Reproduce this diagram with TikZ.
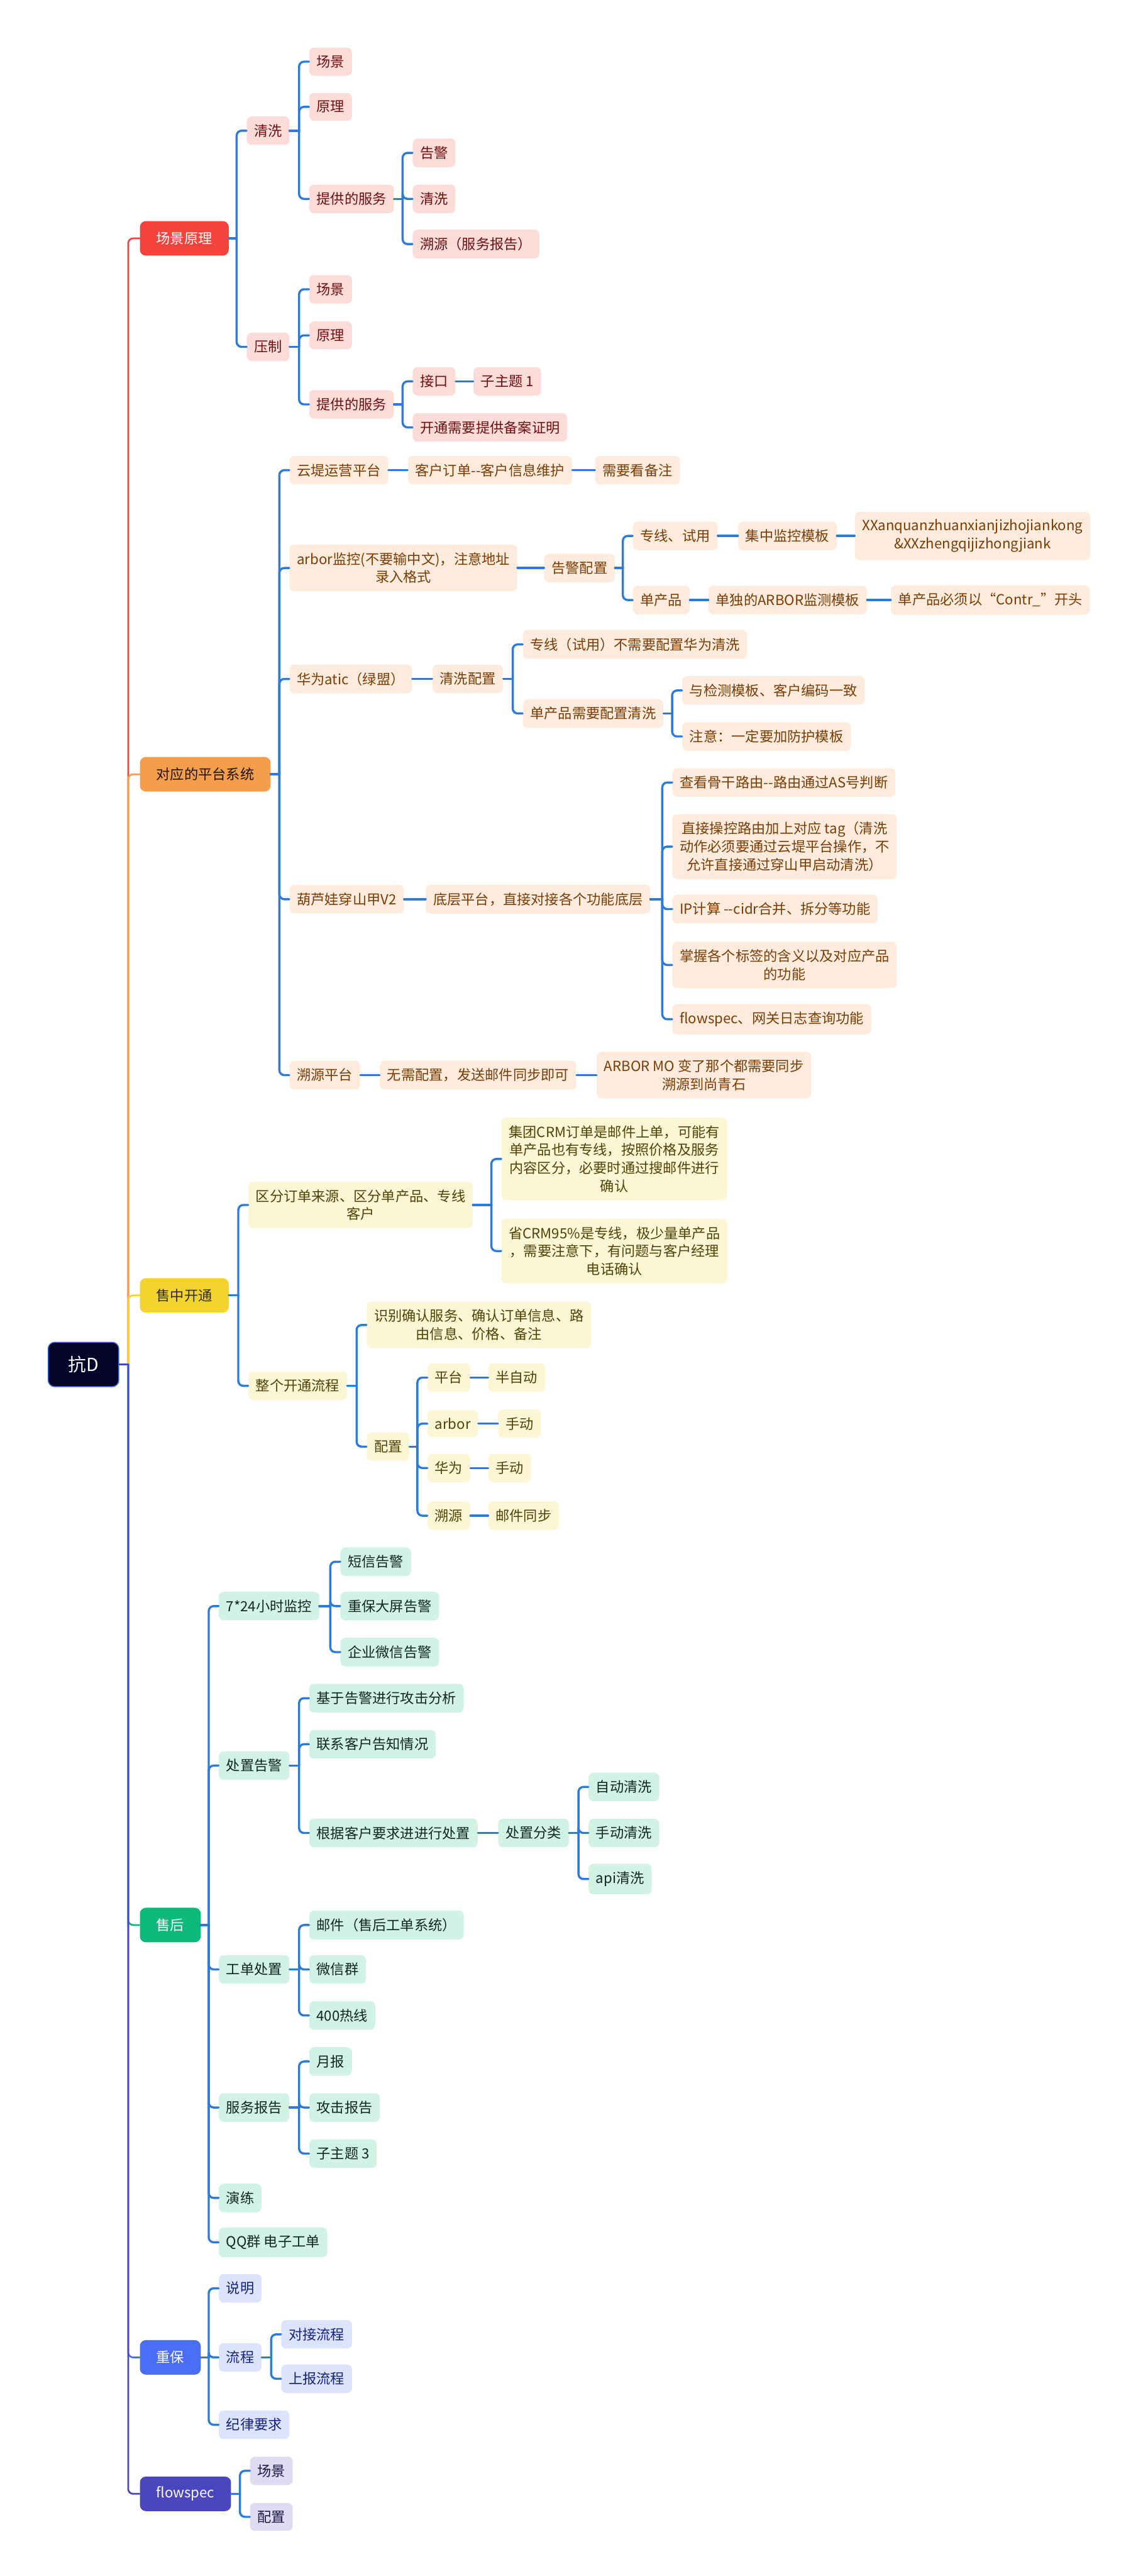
\documentclass[tikz,border=0pt]{standalone}
\usepackage{fontspec}
\setmainfont{Noto Sans CJK SC}
\definecolor{cred}{HTML}{F4433C}
\definecolor{corange}{HTML}{F49D4A}
\definecolor{cyellow}{HTML}{F2D42C}
\definecolor{cgreen}{HTML}{0BB97A}
\definecolor{cblue}{HTML}{4A6EF6}
\definecolor{cindigo}{HTML}{4A47BE}
\definecolor{rootfill}{HTML}{05052B}
\definecolor{rootline}{HTML}{3B63D1}
\definecolor{linkblue}{HTML}{2C7BD8}
\definecolor{pinkfill}{HTML}{FCDCD9}
\definecolor{pinktext}{HTML}{6E1010}
\definecolor{peachfill}{HTML}{FDECDD}
\definecolor{peachtext}{HTML}{7A3D05}
\definecolor{creamfill}{HTML}{FDF6D5}
\definecolor{creamtext}{HTML}{4F4308}
\definecolor{mintfill}{HTML}{D1F2E4}
\definecolor{minttext}{HTML}{10281F}
\definecolor{lavfill}{HTML}{DCE3FC}
\definecolor{lavtext}{HTML}{16237A}
\definecolor{lilacfill}{HTML}{DDDCF2}
\definecolor{lilactext}{HTML}{1A1845}
% children of one parent: bracket sits 6 units left of the children
\newcommand\fan[2]{\foreach \ch in {#2}{%
  \draw[lnk,rounded corners=0.15cm] (\ch.west) -- ++(-6,0) coordinate (brk) -- (brk |- #1.east);
  \draw[lnk] (brk |- #1.east) -- (#1.east);}}
% one child on the same line
\newcommand\chain[2]{\draw[lnk] (#1.east) -- (#1.east -| #2.west);}
% coloured branch from the root
\newcommand\trunk[2]{%
  \draw[trunkln,#2,rounded corners=0.15cm] (#1.west) -- ++(-7,0) coordinate (brk) -- (brk |- root.east);
  \draw[trunkln,#2] (brk |- root.east) -- (root.east);}
\begin{document}
\begin{tikzpicture}[x=0.05cm,y=-0.05cm,line join=round,line cap=round]
\tikzset{every node/.style={font=\fontsize{12.1}{15.6}\selectfont,anchor=west,align=center,
    rounded corners=0.15cm,inner xsep=0.225cm,inner ysep=0.2375cm},
  topic/.style={text=white,inner xsep=0.5cm,minimum height=1.05cm,rounded corners=0.18cm},
  pk/.style={fill=pinkfill,text=pinktext},
  pe/.style={fill=peachfill,text=peachtext},
  cr/.style={fill=creamfill,text=creamtext},
  mt/.style={fill=mintfill,text=minttext},
  lv/.style={fill=lavfill,text=lavtext},
  li/.style={fill=lilacfill,text=lilactext},
  lnk/.style={draw=linkblue,line width=1.85pt},
  trunkln/.style={line width=1.5pt}}
\useasboundingbox (0,0) rectangle (688,1567);

\node[fill=rootfill,draw=rootline,line width=0.8pt,text=white,font=\fontsize{15.6}{18}\selectfont,
  minimum width=2.15cm,minimum height=1.35cm,rounded corners=0.2cm,inner xsep=0.1cm] (root) at (29,830) {抗D};

% main topics
\node[topic,fill=cred] (a) at (85,145) {场景原理};
\node[topic,fill=corange,text=black!85!brown] (b) at (85,471) {对应的平台系统};
\node[topic,fill=cyellow,text=black!85!olive] (c) at (85,788) {售中开通};
\node[topic,fill=cgreen] (d) at (85,1171) {售后};
\node[topic,fill=cblue] (e) at (85,1434) {重保};
\node[topic,fill=cindigo] (f) at (85,1517) {flowspec};

\trunk{a}{cred}
\trunk{b}{corange}
\trunk{c}{cyellow}
\trunk{d}{cgreen}
\trunk{e}{cblue}
\trunk{f}{cindigo}

% 场景原理
\node[pk] (a1) at (150,79.5) {清洗};
\node[pk] (a2) at (150,211) {压制};
\node[pk] (a11) at (188,37.5) {场景};
\node[pk] (a12) at (188,65) {原理};
\node[pk] (a13) at (188,121) {提供的服务};
\node[pk] (a131) at (251,93) {告警};
\node[pk] (a132) at (251,121) {清洗};
\node[pk] (a133) at (251,148.5) {溯源（服务报告）};
\node[pk] (a21) at (188,176) {场景};
\node[pk] (a22) at (188,204) {原理};
\node[pk] (a23) at (188,246) {提供的服务};
\node[pk] (a231) at (251,232) {接口};
\node[pk] (a2311) at (288,232) {子主题 1};
\node[pk] (a232) at (251,260) {开通需要提供备案证明};
\fan{a}{a1,a2}
\fan{a1}{a11,a12,a13}
\fan{a13}{a131,a132,a133}
\fan{a2}{a21,a22,a23}
\fan{a23}{a231,a232}
\chain{a231}{a2311}

% 对应的平台系统
\node[pe] (b1) at (176,286) {云堤运营平台};
\node[pe] (b11) at (248,286) {客户订单-{}-客户信息维护};
\node[pe] (b111) at (362,286) {需要看备注};
\node[pe] (b2) at (176,345.5) {arbor监控(不要输中文)，注意地址\\录入格式};
\node[pe] (b21) at (331,345.5) {告警配置};
\node[pe] (b211) at (385,326) {专线、试用};
\node[pe] (b2111) at (449,326) {集中监控模板};
\node[pe] (b21111) at (520,326) {XXanquanzhuanxianjizhojiankong\\\&XXzhengqijizhongjiank};
\node[pe] (b212) at (385,365) {单产品};
\node[pe] (b2121) at (431,365) {单独的ARBOR监测模板};
\node[pe] (b21211) at (542,365) {单产品必须以“Contr\_”开头};
\node[pe] (b3) at (176,413) {华为atic（绿盟）};
\node[pe] (b31) at (263,413) {清洗配置};
\node[pe] (b311) at (318,392) {专线（试用）不需要配置华为清洗};
\node[pe] (b312) at (318,434) {单产品需要配置清洗};
\node[pe] (b3121) at (415,420) {与检测模板、客户编码一致};
\node[pe] (b3122) at (415,448) {注意：一定要加防护模板};
\node[pe] (b4) at (176,547) {葫芦娃穿山甲V2};
\node[pe] (b41) at (259,547) {底层平台，直接对接各个功能底层};
\node[pe] (b411) at (409,476) {查看骨干路由-{}-路由通过AS号判断};
\node[pe] (b412) at (409,515) {直接操控路由加上对应 tag（清洗\\动作必须要通过云堤平台操作，不\\允许直接通过穿山甲启动清洗）};
\node[pe] (b413) at (409,553) {IP计算 -{}-cidr合并、拆分等功能};
\node[pe] (b414) at (409,587) {掌握各个标签的含义以及对应产品\\的功能};
\node[pe] (b415) at (409,620) {flowspec、网关日志查询功能};
\node[pe] (b5) at (176,654) {溯源平台};
\node[pe] (b51) at (231,654) {无需配置，发送邮件同步即可};
\node[pe] (b511) at (363,654) {ARBOR MO 变了那个都需要同步\\溯源到尚青石};
\fan{b}{b1,b2,b3,b4,b5}
\chain{b1}{b11}
\chain{b11}{b111}
\chain{b2}{b21}
\fan{b21}{b211,b212}
\chain{b211}{b2111}
\chain{b2111}{b21111}
\chain{b212}{b2121}
\chain{b2121}{b21211}
\chain{b3}{b31}
\fan{b31}{b311,b312}
\fan{b312}{b3121,b3122}
\chain{b4}{b41}
\fan{b41}{b411,b412,b413,b414,b415}
\chain{b5}{b51}
\chain{b51}{b511}

% 售中开通
\node[cr] (c1) at (151,733) {区分订单来源、区分单产品、专线\\客户};
\node[cr] (c11) at (305,705) {集团CRM订单是邮件上单，可能有\\单产品也有专线，按照价格及服务\\内容区分，必要时通过搜邮件进行\\确认};
\node[cr] (c12) at (305,761) {省CRM95\%是专线，极少量单产品\\，需要注意下，有问题与客户经理\\电话确认};
\node[cr] (c2) at (151,843) {整个开通流程};
\node[cr] (c21) at (223,806) {识别确认服务、确认订单信息、路\\由信息、价格、备注};
\node[cr] (c22) at (223,880) {配置};
\node[cr] (c221) at (260,838) {平台};
\node[cr] (c2211) at (297,838) {半自动};
\node[cr] (c222) at (260,866) {arbor};
\node[cr] (c2221) at (303,866) {手动};
\node[cr] (c223) at (260,893) {华为};
\node[cr] (c2231) at (297,893) {手动};
\node[cr] (c224) at (260,922) {溯源};
\node[cr] (c2241) at (297,922) {邮件同步};
\fan{c}{c1,c2}
\fan{c1}{c11,c12}
\fan{c2}{c21,c22}
\fan{c22}{c221,c222,c223,c224}
\foreach \n in {1,2,3,4} {\chain{c22\n}{c22\n1}}

% 售后
\node[mt] (d1) at (133,977) {7*24小时监控};
\node[mt] (d11) at (207,950) {短信告警};
\node[mt] (d12) at (207,977) {重保大屏告警};
\node[mt] (d13) at (207,1005) {企业微信告警};
\node[mt] (d2) at (133,1074) {处置告警};
\node[mt] (d21) at (188,1033) {基于告警进行攻击分析};
\node[mt] (d22) at (188,1061) {联系客户告知情况};
\node[mt] (d23) at (188,1115) {根据客户要求进进行处置};
\node[mt] (d231) at (303,1115) {处置分类};
\node[mt] (d2311) at (358,1087) {自动清洗};
\node[mt] (d2312) at (358,1115) {手动清洗};
\node[mt] (d2313) at (358,1143) {api清洗};
\node[mt] (d3) at (133,1198) {工单处置};
\node[mt] (d31) at (188,1171) {邮件（售后工单系统）};
\node[mt] (d32) at (188,1198) {微信群};
\node[mt] (d33) at (188,1226) {400热线};
\node[mt] (d4) at (133,1282) {服务报告};
\node[mt] (d41) at (188,1254) {月报};
\node[mt] (d42) at (188,1282) {攻击报告};
\node[mt] (d43) at (188,1310) {子主题 3};
\node[mt] (d5) at (133,1337) {演练};
\node[mt] (d6) at (133,1364) {QQ群 电子工单};
\fan{d}{d1,d2,d3,d4,d5,d6}
\fan{d1}{d11,d12,d13}
\fan{d2}{d21,d22,d23}
\chain{d23}{d231}
\fan{d231}{d2311,d2312,d2313}
\fan{d3}{d31,d32,d33}
\fan{d4}{d41,d42,d43}

% 重保
\node[lv] (e1) at (133,1392) {说明};
\node[lv] (e2) at (133,1434) {流程};
\node[lv] (e21) at (171,1420) {对接流程};
\node[lv] (e22) at (171,1447) {上报流程};
\node[lv] (e3) at (133,1475) {纪律要求};
\fan{e}{e1,e2,e3}
\fan{e2}{e21,e22}

% flowspec
\node[li] (f1) at (152,1503) {场景};
\node[li] (f2) at (152,1531) {配置};
\fan{f}{f1,f2}
\end{tikzpicture}
\end{document}
